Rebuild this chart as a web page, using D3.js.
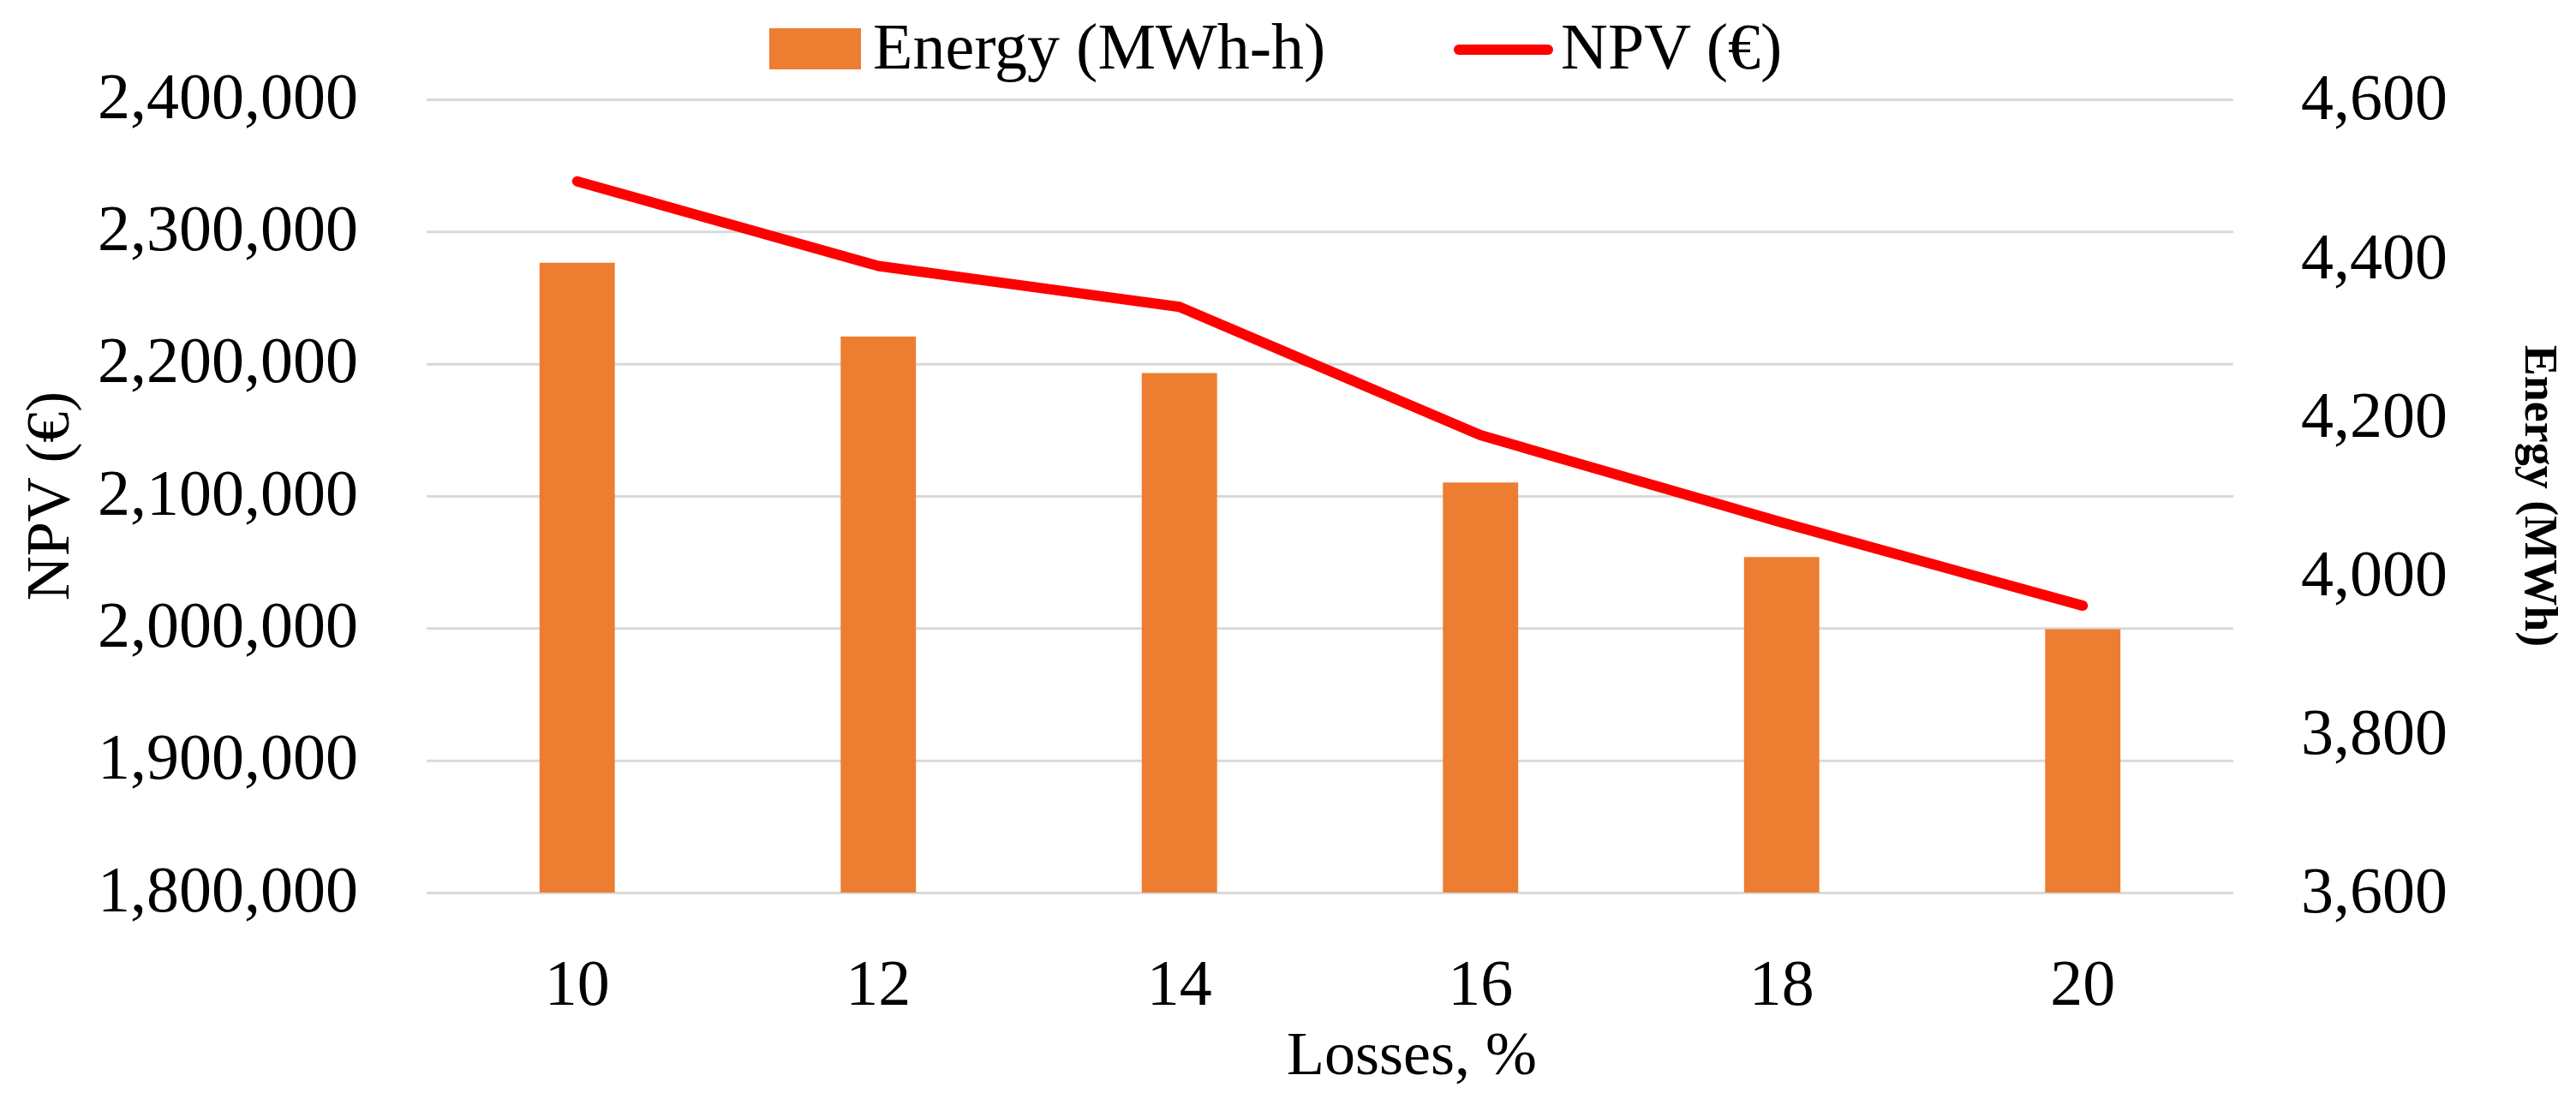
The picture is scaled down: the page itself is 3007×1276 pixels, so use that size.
<!DOCTYPE html>
<html>
<head>
<meta charset="utf-8">
<script src="https://cdn.jsdelivr.net/npm/d3@7"></script>
<style>
  body { margin: 0; background: #fff; }
  text { font-family: "Liberation Serif", "Times New Roman", serif; fill: #000; }
</style>
</head>
<body>
<div id="chart"></div>
<script>
// data
const losses = [10, 12, 14, 16, 18, 20];
const energy = [4394, 4301, 4255, 4117, 4023, 3932];          // MWh, right axis
const npv = [2338000, 2274000, 2243000, 2146000, 2080000, 2017000]; // €, left axis
const npvTicks = [1800000, 1900000, 2000000, 2100000, 2200000, 2300000, 2400000];
const energyTicks = [3600, 3800, 4000, 4200, 4400, 4600];

const width = 3007;
const height = 1276;
const plot = { left: 498, right: 2607, top: 116, bottom: 1042 };
const fontSize = 76;

const svg = d3.select("#chart")
    .append("svg")
    .attr("width", width)
    .attr("height", height)
    .attr("viewBox", `0 0 ${width} ${height}`);

const x = d3.scaleBand()
    .domain(losses)
    .range([plot.left, plot.right])
    .padding(0);

const yLeft = d3.scaleLinear()
    .domain([1800000, 2400000])
    .range([plot.bottom, plot.top]);

const yRight = d3.scaleLinear()
    .domain([3600, 4600])
    .range([plot.bottom, plot.top]);

// gridlines
const grid = svg.append("g")
    .attr("transform", `translate(${plot.left},0)`)
    .call(d3.axisLeft(yLeft).tickValues(npvTicks).tickSize(-(plot.right - plot.left)).tickFormat(""));
grid.select(".domain").remove();
grid.selectAll("line").attr("stroke", "#d9d9d9").attr("stroke-width", 3);

// bars (energy)
const barW = x.bandwidth() * 0.25;
svg.selectAll(".bar")
    .data(losses)
    .enter()
    .append("rect")
    .attr("class", "bar")
    .attr("x", (d) => x(d) + (x.bandwidth() - barW) / 2)
    .attr("y", (d, i) => yRight(energy[i]))
    .attr("width", barW)
    .attr("height", (d, i) => yRight(3600) - yRight(energy[i]))
    .attr("fill", "#ED7D31");

// npv line
const line = d3.line()
    .x((d) => x(d) + x.bandwidth() / 2)
    .y((d, i) => yLeft(npv[i]));

svg.append("path")
    .datum(losses)
    .attr("d", line)
    .attr("fill", "none")
    .attr("stroke", "#FF0000")
    .attr("stroke-width", 12)
    .attr("stroke-linejoin", "round")
    .attr("stroke-linecap", "round");

// left axis labels
const leftAxis = svg.append("g")
    .attr("transform", `translate(${plot.left - 80},0)`)
    .call(d3.axisLeft(yLeft).tickValues(npvTicks).tickSize(0).tickPadding(0).tickFormat(d3.format(",")));
leftAxis.select(".domain").remove();
leftAxis.selectAll("text")
    .style("font-size", fontSize + "px")
    .style("font-family", "Liberation Serif")
    .attr("dy", "0.28em");

// right axis labels
const rightAxis = svg.append("g")
    .attr("transform", `translate(${plot.right + 79},0)`)
    .call(d3.axisRight(yRight).tickValues(energyTicks).tickSize(0).tickPadding(0).tickFormat(d3.format(",")));
rightAxis.select(".domain").remove();
rightAxis.selectAll("text")
    .style("font-size", fontSize + "px")
    .style("font-family", "Liberation Serif")
    .attr("dy", "0.3em");

// bottom axis labels
const bottomAxis = svg.append("g")
    .attr("transform", `translate(0,${plot.bottom})`)
    .call(d3.axisBottom(x).tickSize(0).tickPadding(0));
bottomAxis.select(".domain").remove();
bottomAxis.selectAll("text")
    .style("font-size", fontSize + "px")
    .style("font-family", "Liberation Serif")
    .attr("dy", null)
    .attr("y", 131);

// axis titles
svg.append("text")
    .attr("x", 1648)
    .attr("y", 1254)
    .attr("text-anchor", "middle")
    .style("font-size", "72px")
    .text("Losses, %");

svg.append("text")
    .attr("transform", `translate(80,${(plot.top + plot.bottom) / 2}) rotate(-90)`)
    .attr("text-anchor", "middle")
    .style("font-size", "72px")
    .text("NPV (€)");

svg.append("text")
    .attr("transform", `translate(2948,${(plot.top + plot.bottom) / 2}) rotate(90)`)
    .attr("text-anchor", "middle")
    .style("font-size", "54px")
    .style("font-weight", "bold")
    .text("Energy (MWh)");

// legend
const legend = svg.append("g");
legend.append("rect")
    .attr("x", 898).attr("y", 33)
    .attr("width", 107).attr("height", 48)
    .attr("fill", "#ED7D31");
legend.append("text")
    .attr("x", 1019).attr("y", 80)
    .style("font-size", fontSize + "px")
    .text("Energy (MWh-h)");
legend.append("line")
    .attr("x1", 1703).attr("x2", 1807)
    .attr("y1", 58).attr("y2", 58)
    .attr("stroke", "#FF0000")
    .attr("stroke-width", 12)
    .attr("stroke-linecap", "round");
legend.append("text")
    .attr("x", 1822).attr("y", 80)
    .style("font-size", fontSize + "px")
    .text("NPV (€)");
</script>
</body>
</html>
